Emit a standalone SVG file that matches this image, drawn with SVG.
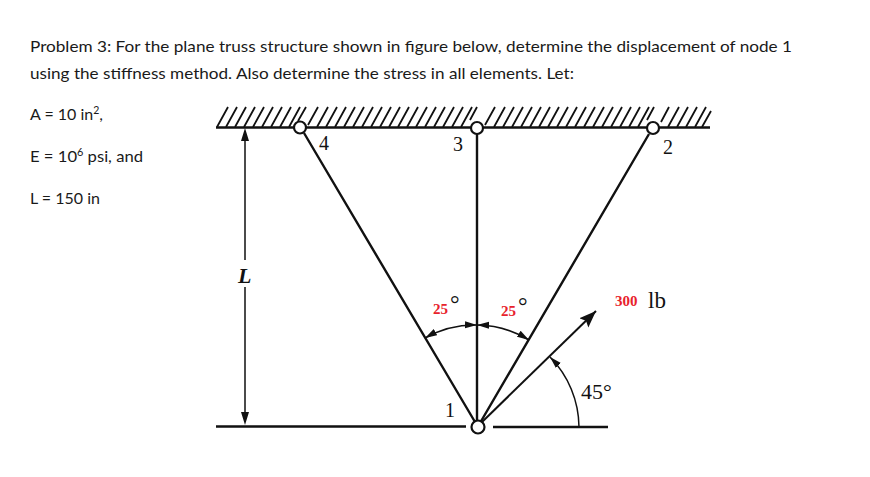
<svg xmlns="http://www.w3.org/2000/svg" width="870" height="477" viewBox="0 0 870 477">
<style>
.t{font-family:"Lato","Open Sans","Liberation Sans",sans-serif;font-size:16px;fill:#1a1a1a}
.s{font-size:10.5px}
.f{font-family:"Liberation Serif","Times New Roman",serif;fill:#111}
.r{font-family:"Liberation Serif","Times New Roman",serif;font-size:15px;font-weight:bold;fill:#e8222c}
.b{fill:none;stroke:#111;stroke-width:2.4}
.m{fill:none;stroke:#111;stroke-width:1.5}
.h{fill:none;stroke:#111;stroke-width:1.8}
.n{fill:#fff;stroke:#111;stroke-width:2.2}
</style>
<defs>
<marker id="a" markerUnits="userSpaceOnUse" markerWidth="18" markerHeight="14" refX="17" refY="7" orient="auto-start-reverse"><path d="M0 0.500L17 7L0 13.500L3 7Z" fill="#111"/></marker>
<marker id="c" markerUnits="userSpaceOnUse" markerWidth="13" markerHeight="8" refX="12" refY="4" orient="auto-start-reverse"><path d="M0 0.500L12 4L0 7.500Z" fill="#111"/></marker>
</defs>
<rect width="870" height="477" fill="#fff"/>
<g id="problem-text">
<text class="t" x="30" y="52" textLength="762" lengthAdjust="spacingAndGlyphs">Problem 3: For the plane truss structure shown in figure below, determine the displacement of node 1</text>
<text class="t" x="30" y="79" textLength="544" lengthAdjust="spacingAndGlyphs">using the stiffness method. Also determine the stress in all elements. Let:</text>
<text class="t" x="30" y="120">A = 10 in<tspan class="s" dy="-6">2</tspan><tspan dy="6">,</tspan></text>
<text class="t" x="30" y="162" textLength="113" lengthAdjust="spacingAndGlyphs">E = 10<tspan class="s" dy="-6">6</tspan><tspan dy="6"> psi, and</tspan></text>
<text class="t" x="30" y="204">L = 150 in</text>
</g>
<g id="supports">
<path class="h" d="M217 127L228 107M226 127L237 107M235 127L246 107M244 127L255 107M253 127L264 107M262 127L273 107M271 127L282 107M280 127L291 107M289 127L300 107M298 121L306 107M308 125L318 107M317 127L328 107M326 127L337 107M335 127L346 107M344 127L355 107M353 127L364 107M362 127L373 107M371 127L382 107M380 127L391 107M389 127L400 107M398 127L409 107M407 127L418 107M416 127L427 107M425 127L436 107M434 127L445 107M443 127L454 107M452 127L463 107M461 127L472 107M470 120L477 107M485 125L495 107M494 127L505 107M503 127L514 107M512 127L523 107M521 127L532 107M530 127L541 107M539 127L550 107M548 127L559 107M557 127L568 107M566 127L577 107M575 127L586 107M584 127L595 107M593 127L604 107M602 127L613 107M611 127L622 107M620 127L631 107M629 127L640 107M638 127L649 107M647 120L654 107M661 122L669 107M668 127L679 107M677 127L688 107M686 127L697 107M695 127L706 107M702 127L711 111"/>
<path class="b" d="M216 127.500H710"/>
<path class="b" d="M216 426.500H466M493 427H608"/>
</g>
<g id="connectors">
<path class="b" d="M304 133L478 427M477 134V423M649 134L480 423"/>
<path class="m" d="M245 138V260M245 287V416"/>
<path d="M245 128L249 141H241Z M245 425L241 412H249Z" fill="#111"/>
<path class="b" d="M481 423L596 311" style="stroke-width:2" marker-end="url(#a)"/>
<path class="m" d="M579 427A101 101 0 0 0 550 357" marker-end="url(#c)"/>
<path class="m" d="M477 325A102 102 0 0 0 425 338" marker-end="url(#c)" marker-start="url(#c)"/>
<path class="m" d="M477 325A102 102 0 0 1 529 340" marker-end="url(#c)" marker-start="url(#c)"/>
</g>
<g id="node-1"><circle class="n" cx="478" cy="427" r="6.500"/><text class="f" x="445" y="417" font-size="20">1</text></g>
<g id="node-2"><circle class="n" cx="653" cy="128" r="6"/><text class="f" x="663" y="154" font-size="20">2</text></g>
<g id="node-3"><circle class="n" cx="477" cy="128" r="6"/><text class="f" x="453" y="151" font-size="20">3</text></g>
<g id="node-4"><circle class="n" cx="300" cy="127.500" r="6"/><text class="f" x="319" y="150" font-size="20">4</text></g>
<g id="labels">
<text class="f" x="238" y="283" font-size="22" font-style="italic" font-weight="bold">L</text>
<text class="r" x="433" y="314">25</text><text class="f" x="450" y="312" font-size="24">°</text>
<text class="r" x="501" y="316">25</text><text class="f" x="518" y="314" font-size="24">°</text>
<text class="r" x="615" y="306">300</text><text class="f" x="648" y="308" font-size="23">lb</text>
<text class="f" x="581" y="399" font-size="22">45°</text>
</g>
</svg>
